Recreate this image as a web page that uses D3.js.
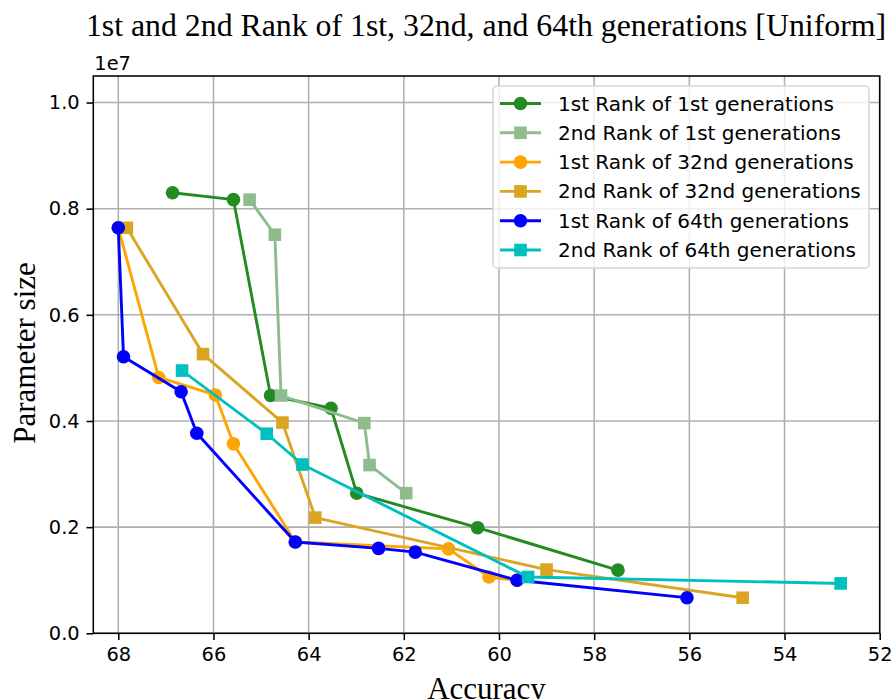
<!DOCTYPE html>
<html>
<head>
<meta charset="utf-8">
<script src="https://cdn.jsdelivr.net/npm/d3@7"></script>
<style>
  body { margin: 0; background: #fff; }
  svg { display: block; }
</style>
</head>
<body>
<svg id="chart" width="893" height="699"></svg>
<script>
// accuracy (x) and parameter size (y) for each series
let acc_1st_r1 = [66.86, 65.58, 64.80, 63.53, 62.99, 60.45, 57.50];
let par_1st_r1 = [8.30e6, 8.17e6, 4.48e6, 4.24e6, 2.64e6, 1.99e6, 1.19e6];
let acc_1st_r2 = [65.24, 64.71, 64.58, 62.83, 62.72, 61.95];
let par_1st_r2 = [8.17e6, 7.51e6, 4.48e6, 3.96e6, 3.17e6, 2.64e6];
let acc_32_r1 = [68.00, 67.15, 65.96, 65.58, 64.28, 61.06, 60.21, 59.62];
let par_32_r1 = [7.64e6, 4.82e6, 4.49e6, 3.57e6, 1.72e6, 1.59e6, 1.06e6, 1.00e6];
let acc_32_r2 = [67.82, 66.22, 64.55, 63.86, 59.00, 54.88];
let par_32_r2 = [7.64e6, 5.26e6, 3.97e6, 2.18e6, 1.20e6, 0.67e6];
let acc_64_r1 = [68.00, 67.89, 66.68, 66.35, 64.28, 62.53, 61.76, 59.62, 56.05];
let par_64_r1 = [7.64e6, 5.21e6, 4.55e6, 3.77e6, 1.72e6, 1.60e6, 1.53e6, 1.00e6, 0.67e6];
let acc_64_r2 = [66.66, 64.88, 64.13, 59.39, 52.82];
let par_64_r2 = [4.95e6, 3.76e6, 3.18e6, 1.06e6, 0.94e6];

let labels = [
    '1st Rank of 1st generations',
    '2nd Rank of 1st generations',
    '1st Rank of 32nd generations',
    '2nd Rank of 32nd generations',
    '1st Rank of 64th generations',
    '2nd Rank of 64th generations'
];
let colors = ['#228b22', '#8fbc8f', '#ffa500', '#daa520', '#0000ff', '#00bfbf'];
let markers = ['o', 's', 'o', 's', 'o', 's'];

let x_ticks = [68, 66, 64, 62, 60, 58, 56, 54, 52];
let y_ticks = [0, 0.2e7, 0.4e7, 0.6e7, 0.8e7, 1.0e7];

let title_text = '1st and 2nd Rank of 1st, 32nd, and 64th generations [Uniform]';

let accs = [acc_1st_r1, acc_1st_r2, acc_32_r1, acc_32_r2, acc_64_r1, acc_64_r2];
let pars = [par_1st_r1, par_1st_r2, par_32_r1, par_32_r2, par_64_r1, par_64_r2];

let pLeft = 93.3, pRight = 879.7, pTop = 76, pBottom = 633.3;
let tick_font = '"DejaVu Sans", sans-serif';
let serif = '"Liberation Serif", "Times New Roman", serif';

const svg = d3.select('#chart');

const x = d3.scaleLinear().domain([68.525, 52]).range([pLeft, pRight]);
const y = d3.scaleLinear().domain([0, 1.05e7]).range([pBottom, pTop]);

// grid
const grid = svg.append('g');
grid.selectAll('.vx').data(x_ticks).join('line')
    .attr('x1', d => x(d)).attr('x2', d => x(d))
    .attr('y1', pTop).attr('y2', pBottom)
    .attr('stroke', '#b0b0b0').attr('stroke-width', 1.55);
grid.selectAll('.hy').data(y_ticks).join('line')
    .attr('y1', d => y(d)).attr('y2', d => y(d))
    .attr('x1', pLeft).attr('x2', pRight)
    .attr('stroke', '#b0b0b0').attr('stroke-width', 1.55);

// axes
const xAxis = svg.append('g')
    .attr('transform', 'translate(0,' + pBottom + ')')
    .call(d3.axisBottom(x).tickValues(x_ticks).tickSizeOuter(0).tickSize(6.8).tickPadding(6.8).tickFormat(d3.format('d')));
const yAxis = svg.append('g')
    .attr('transform', 'translate(' + pLeft + ',0)')
    .call(d3.axisLeft(y).tickValues(y_ticks).tickSizeOuter(0).tickSize(6.8).tickPadding(6.8).tickFormat(d => (d / 1e7).toFixed(1)));
[xAxis, yAxis].forEach(a => {
    a.select('.domain').remove();
    a.selectAll('line').attr('stroke', '#000').attr('stroke-width', 1.55);
    a.selectAll('text').attr('fill', '#000').style('font-family', tick_font).style('font-size', '19.4px');
});

// frame
svg.append('rect')
    .attr('x', pLeft).attr('y', pTop)
    .attr('width', pRight - pLeft).attr('height', pBottom - pTop)
    .attr('fill', 'none').attr('stroke', '#000').attr('stroke-width', 1.55);

// series
const line = d3.line().x(d => x(d[0])).y(d => y(d[1]));
const plot = svg.append('g');

function drawMarker(g, type, cx, cy, col) {
    if (type === 'o') {
        g.append('circle').attr('cx', cx).attr('cy', cy).attr('r', 6.8).attr('fill', col);
    } else {
        g.append('rect').attr('x', cx - 6.3).attr('y', cy - 6.3).attr('width', 12.6).attr('height', 12.6).attr('fill', col);
    }
}

for (let i = 0; i < labels.length; i++) {
    let pts = accs[i].map((a, j) => [a, pars[i][j]]);
    let g = plot.append('g');
    g.append('path')
        .attr('d', line(pts))
        .attr('fill', 'none')
        .attr('stroke', colors[i])
        .attr('stroke-width', 2.9)
        .attr('stroke-linejoin', 'round')
        .attr('stroke-linecap', 'square');
    pts.forEach(p => drawMarker(g, markers[i], x(p[0]), y(p[1]), colors[i]));
}

// offset text
svg.append('text')
    .attr('x', pLeft + 1).attr('y', 70)
    .style('font-family', tick_font).style('font-size', '19.4px')
    .text('1e7');

// title and axis labels
svg.append('text')
    .attr('x', 486).attr('y', 36)
    .attr('text-anchor', 'middle')
    .style('font-family', serif).style('font-size', '31.8px')
    .text(title_text);
svg.append('text')
    .attr('x', (pLeft + pRight) / 2).attr('y', 699)
    .attr('text-anchor', 'middle')
    .style('font-family', serif).style('font-size', '31px')
    .text('Accuracy');
svg.append('text')
    .attr('transform', 'translate(34.5,' + 353 + ') rotate(-90)')
    .attr('text-anchor', 'middle')
    .style('font-family', serif).style('font-size', '31px')
    .text('Parameter size');

// legend
const lg = svg.append('g');
lg.append('rect')
    .attr('x', 493).attr('y', 86).attr('width', 376).attr('height', 182)
    .attr('rx', 4).attr('ry', 4)
    .attr('fill', 'rgba(255,255,255,0.8)').attr('stroke', '#d6d6d6').attr('stroke-width', 1.5);
labels.forEach((lab, i) => {
    let cy = 103.5 + i * 29.3;
    lg.append('line')
        .attr('x1', 500).attr('x2', 541).attr('y1', cy).attr('y2', cy)
        .attr('stroke', colors[i]).attr('stroke-width', 2.9);
    drawMarker(lg, markers[i], 520.5, cy, colors[i]);
    lg.append('text')
        .attr('x', 558).attr('y', cy + 7)
        .style('font-family', tick_font).style('font-size', '20px')
        .text(lab);
});
</script>
</body>
</html>
